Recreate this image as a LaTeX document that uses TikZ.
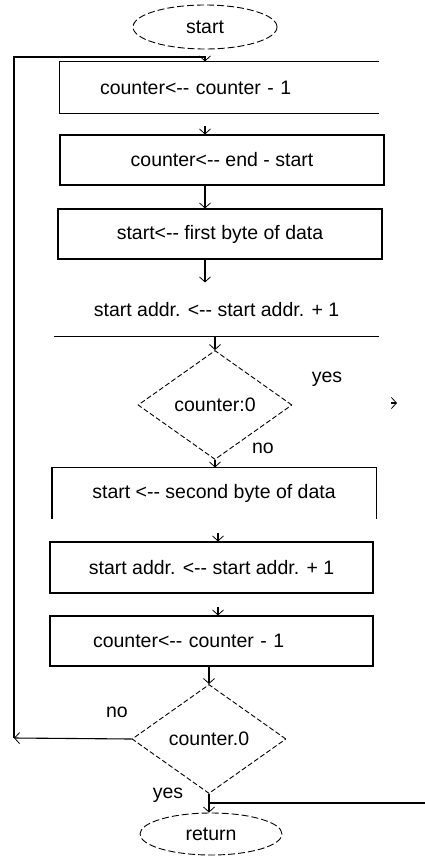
\documentclass[tikz,border=0pt]{standalone}
\usepackage{fontspec}
\setmainfont{Liberation Sans}
\usetikzlibrary{arrows.meta,shapes.geometric}

\begin{document}
\begin{tikzpicture}[x=1pt,y=-1pt,
  txt/.style={font=\fontsize{19.5}{22}\selectfont,inner sep=0pt},
  box/.style={txt,rectangle,draw,line width=1.1pt,minimum width=323pt,minimum height=50pt},
  lbox/.style={box,align=left,inner xsep=42pt,text width=238pt},
  term/.style={txt,ellipse,draw,line width=0.9pt,dash pattern=on 7pt off 3pt},
  test/.style={txt,diamond,draw,line width=0.9pt,dash pattern=on 5pt off 2.5pt,
    minimum width=154pt,minimum height=109pt,aspect=1.4},
  line/.style={line width=1.1pt},
  flow/.style={line,-{Straight Barb[length=5pt,width=11pt,line width=0.8pt]}}]

  \useasboundingbox (0,0) rectangle (425,857);

  \node[term,minimum width=144pt,minimum height=44pt] (start) at (205,27) {start};

  \node[lbox,draw=none,minimum width=318pt,minimum height=51pt,inner xsep=40pt] (b1) at (219,87.5) {counter<-{}- counter - 1};
  \node[box,minimum width=324pt] (b2) at (222,160) {counter<-{}- end - start};
  \node[box,minimum width=324pt] (b3) at (220,234) {start<-{}- first byte of data};
  \node[box,draw=none,minimum height=53pt] (t4) at (216.5,309.5) {start addr. <-{}- start addr. + 1};
  \node[test] (d1) at (215,405) {counter:0};
  \node[box,draw=none] (b4) at (214,493) {start <-{}- second byte of data};
  \node[box,minimum height=51pt] (b5) at (211.5,567.5) {start addr. <-{}- start addr. + 1};
  \node[lbox,inner xsep=43pt,text width=237pt] (b6) at (211.5,641) {counter<-{}- counter - 1};
  \node[test] (d2) at (209,739) {counter.0};
  \node[term,minimum width=142pt,minimum height=42pt] (ret) at (211,834) {return};

  \node[txt] (yes1) at (327,379) {yes};
  \node[txt] (no1) at (263,448) {no};
  \node[txt] (no2) at (117,712) {no};
  \node[txt] (yes2) at (168,795) {yes};

  % open sides
  \draw[line] (b1.north east) -- (b1.north west) -- (b1.south west) -- (b1.south east);
  \draw[line] (t4.south west) -- (t4.south east);
  \draw[line] (b4.south west) -- (b4.north west) -- (b4.north east) -- (b4.south east);

  \coordinate (lpL) at (14,738);
  \coordinate (lpT) at (205,57);
  \coordinate (a2) at (205,126);
  \coordinate (yesA) at (391,403);
  \coordinate (yesB) at (397,403);
  \coordinate (a5) at (218,533);
  \coordinate (a6) at (218,607);
  \coordinate (exR) at (425,803);

  \draw[flow] (lpL) |- (lpT) -- (lpT |- b1.north);
  \draw[flow] (a2) -- (a2 |- b2.north);
  \draw[flow] (b2.south -| a2) -- (b3.north -| a2);
  \draw[flow] (b3.south -| a2) -- (a2 |- t4.north);
  \draw[flow] (t4.south -| d1.north) -- (d1.north);
  \draw[flow] (yesA) -- (yesB);
  \draw[flow] (d1.south) -- (d1.south |- b4.north);
  \draw[flow] (a5) -- (a5 |- b5.north);
  \draw[flow] (a6) -- (a6 |- b6.north);
  \draw[flow] (b6.south -| d2.north) -- (d2.north);
  \draw[flow] (d2.west) -- (lpL);
  \draw[flow] (d2.south) -- (d2.south |- ret.north);
  \draw[line] (exR -| d2.south) -- (exR);
\end{tikzpicture}
\end{document}
